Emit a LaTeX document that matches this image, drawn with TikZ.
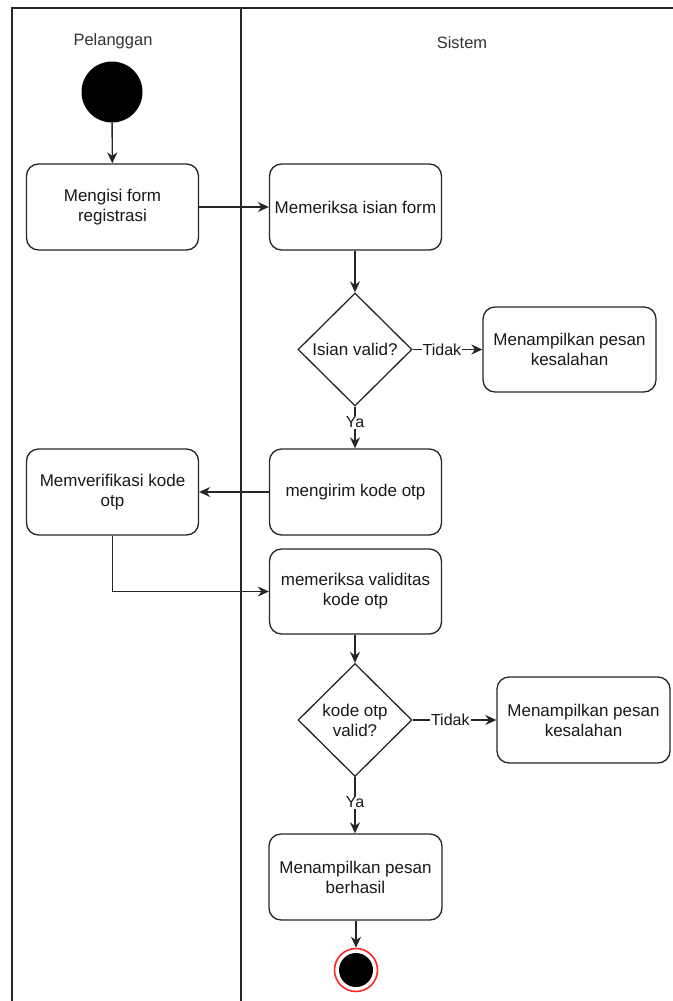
\documentclass[tikz,border=0pt]{standalone}
\usepackage{fontspec}
\setmainfont{Liberation Sans}
\usetikzlibrary{shapes.geometric,arrows.meta}
\tikzset{
  actbox/.style={draw=black!85, line width=1.3pt, rounded corners=12pt, fill=white,
    minimum width=172pt, minimum height=86pt, align=center, inner sep=2pt,
    font=\fontsize{17pt}{20pt}\selectfont, text=black!90},
  decision/.style={draw=black!85, line width=1.3pt, diamond, aspect=1, inner sep=0pt,
    minimum width=114pt, minimum height=113pt, align=center,
    font=\fontsize{17pt}{20pt}\selectfont, text=black!90},
  flow/.style={draw=black!85, line width=1.4pt, -{Stealth[length=11pt,width=10pt]}},
  guard/.style={fill=white, inner sep=1pt, font=\fontsize{16pt}{18pt}\selectfont, text=black!90},
  lanehead/.style={font=\fontsize{16.5pt}{19pt}\selectfont, text=black!80},
  frame/.style={draw=black!85, line width=1.5pt}
}
\begin{document}
\begin{tikzpicture}[x=1pt,y=-1pt]
\useasboundingbox (0,0) rectangle (672,1001);
% swimlane frame
\coordinate (tl) at (12,8);
\coordinate (tr) at (680,8);
\coordinate (bl) at (12,1010);
\coordinate (dt) at (241,8);
\coordinate (db) at (241,1010);
\draw[frame] (bl) -- (tl) -- (tr);
\draw[frame] (dt) -- (db);
\node[lanehead] (h1) at (113,41) {Pelanggan};
\node[lanehead] (h2) at (462,43) {Sistem};

% start
\node[circle, fill=black, minimum size=61pt, inner sep=0pt] (start) at (112,92) {};

% activities
\node[actbox] (b1) at (112.5,207) {Mengisi form\\registrasi};
\node[actbox] (b2) at (355.5,207) {Memeriksa isian form};
\node[decision] (d1) at (355,349.5) {Isian valid?};
\node[actbox, minimum width=173pt, minimum height=85pt] (b3) at (569.5,349.5) {Menampilkan pesan\\kesalahan};
\node[actbox] (b4) at (355.5,492) {mengirim kode otp};
\node[actbox] (b5) at (112.5,492) {Memverifikasi kode\\otp};
\node[actbox, minimum height=85pt] (b6) at (355.5,591.5) {memeriksa validitas\\kode otp};
\node[decision] (d2) at (355,720) {kode otp\\valid?};
\node[actbox, minimum width=173pt] (b7) at (583.5,720) {Menampilkan pesan\\kesalahan};
\node[actbox, minimum width=173pt] (b8) at (355.5,877) {Menampilkan pesan\\berhasil};

% end
\node[circle, draw=red!85, line width=1.6pt, fill=white, minimum size=43pt, inner sep=0pt] (end) at (356,970) {};
\node[circle, fill=black, minimum size=34pt, inner sep=0pt] (endin) at (end.center) {};

% flows
\draw[flow] (start) -- (b1);
\draw[flow] (b1) -- (b2);
\draw[flow] (b2.south -| d1.north) -- (d1.north);
\draw[flow] (d1.east) -- node[guard, pos=0.42] {Tidak} (b3.west |- d1.east);
\draw[flow] (d1.south) -- node[guard, pos=0.38] {Ya} (b4.north -| d1.south);
\draw[flow] (b4) -- (b5);
\draw[flow] (b5.south) |- (b6.west);
\draw[flow] (b6.south -| d2.north) -- (d2.north);
\draw[flow] (d2.east) -- node[guard, pos=0.45] {Tidak} (b7.west |- d2.east);
\draw[flow] (d2.south) -- node[guard, pos=0.45] {Ya} (b8.north -| d2.south);
\draw[flow] (b8.south -| end.north) -- (end.north);
\end{tikzpicture}
\end{document}
